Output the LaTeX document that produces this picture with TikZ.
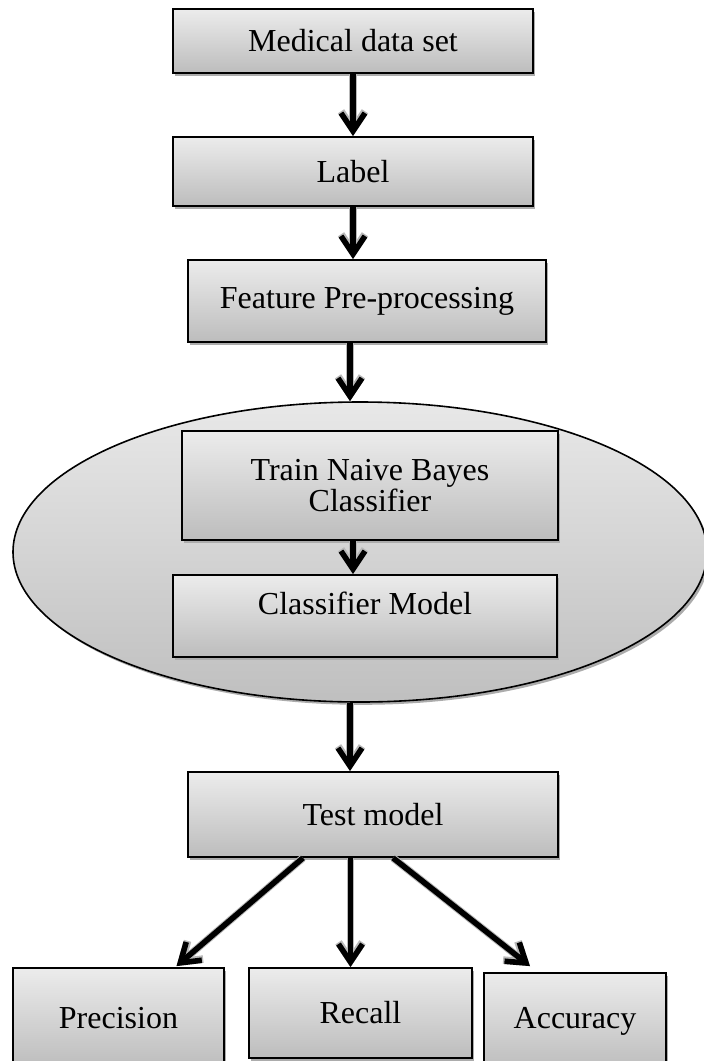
\documentclass[tikz,border=0pt]{standalone}
\usepackage{fontspec}
\setmainfont{Liberation Serif}
\usetikzlibrary{shapes.geometric,shadows,arrows.meta,calc}
\begin{document}
\begin{tikzpicture}[x=0.5pt,y=-0.5pt,
  every node/.style={font=\fontsize{16}{14.2}\selectfont, inner sep=0pt},
  box/.style={rectangle, draw=black, line width=0.9pt, top color=gray!15, bottom color=gray!52,
    align=center, drop shadow={shadow xshift=1.2pt, shadow yshift=-1.4pt, fill=gray!65, opacity=1}},
  oval/.style={ellipse, draw=black, line width=0.8pt, top color=gray!18, bottom color=gray!50,
    drop shadow={shadow xshift=1.2pt, shadow yshift=-1.4pt, fill=gray!65, opacity=1}},
  flow/.style={line width=2.8pt, -{Straight Barb[length=9pt,width=12pt,line width=2.8pt]},
    preaction={draw=gray!55, line width=3.8pt, -{Straight Barb[length=9pt,width=12pt,line width=3.8pt]}}}
]
\useasboundingbox (0,0) rectangle (704,1061);

\node[box, minimum width=180pt, minimum height=32pt] (med) at (353,41) {Medical data set};
\node[box, minimum width=180pt, minimum height=34.5pt] (lab) at (353,171.5) {Label};
\node[box, minimum width=179pt, minimum height=41pt] (feat) at (367,301) {Feature Pre-processing};
\node[oval, minimum width=347pt, minimum height=150pt] (ell) at (360,552) {};
\node[box, minimum width=188pt, minimum height=54.5pt] (train) at (370,485.5) {Train Naive Bayes\\Classifier};
\node[box, minimum width=192pt, minimum height=41pt,
  label={[yshift=6.5pt, font=\fontsize{16}{14.2}\selectfont]center:Classifier Model}] (cm) at (365,616) {};
\node[box, minimum width=185pt, minimum height=42.5pt] (test) at (373,814.5) {Test model};
\node[box, minimum width=105.5pt, minimum height=50pt] (prec) at (118.5,1018) {Precision};
\node[box, minimum width=111.5pt, minimum height=45pt] (rec) at (360.5,1013) {Recall};
\node[box, minimum width=91pt, minimum height=48.5pt] (acc) at (575,1021.5) {Accuracy};

\draw[flow] (med.south) -- (lab.north);
\draw[flow] (lab.south) -- (lab.south |- feat.north);
\draw[flow] ([xshift=-1.5pt]lab.south |- feat.south) -- ([xshift=-1.5pt]lab.south |- ell.north);
\draw[flow] (lab.south |- train.south) -- (lab.south |- cm.north);
\draw[flow] ([xshift=-1.5pt]lab.south |- ell.south) -- ([xshift=-1.5pt]lab.south |- test.north);
\draw[flow] ([xshift=-35pt]test.south) -- ([xshift=29pt,yshift=0.5pt]prec.north);
\draw[flow] ([xshift=-5pt]rec.north |- test.south) -- ([xshift=-5pt]rec.north);
\draw[flow] ([xshift=10pt]test.south) -- ([xshift=-22.5pt,yshift=3pt]acc.north);
\end{tikzpicture}
\end{document}
